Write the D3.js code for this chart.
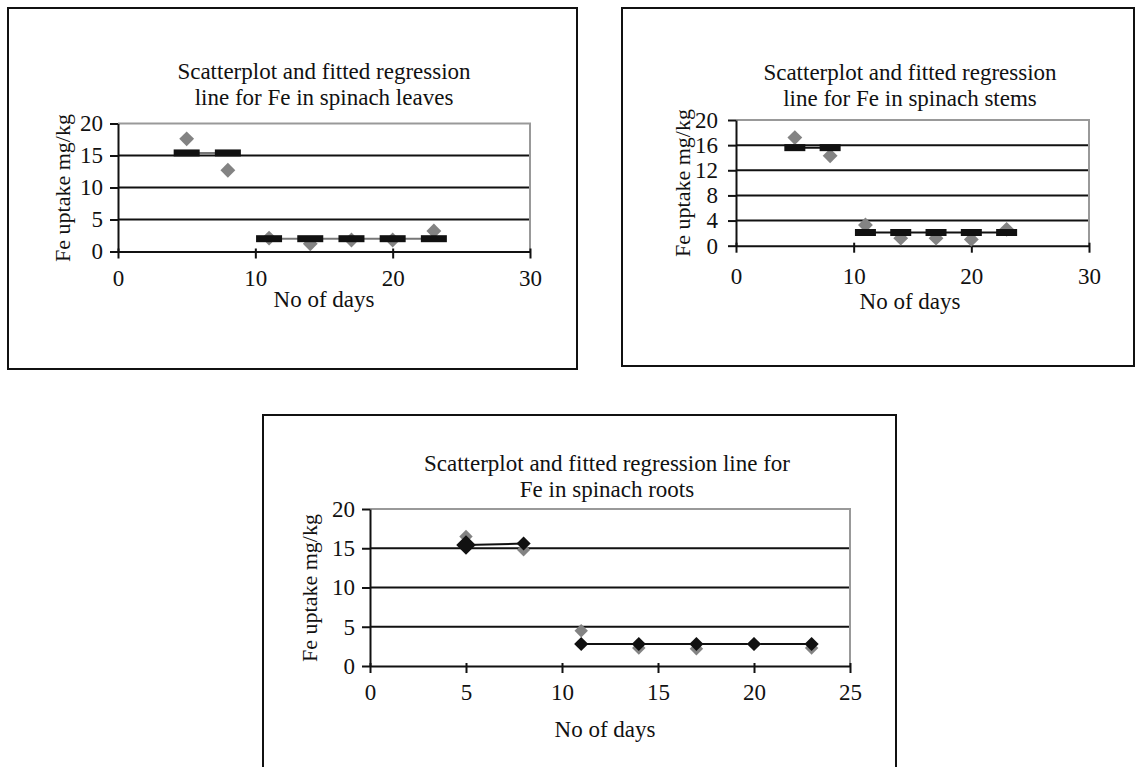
<!DOCTYPE html>
<html>
<head>
<meta charset="utf-8">
<script src="https://cdn.jsdelivr.net/npm/d3@7"></script>
<style>
  body { margin: 0; background: #fff; }
  svg { display: block; }
  text { font-family: "Liberation Serif", "Times New Roman", serif; fill: #111; }
</style>
</head>
<body>
<div id="chart-area"></div>
<script>
// days of sampling (shared by the three panels)
const days = [5, 8, 11, 14, 17, 20, 23];
// the regression is fitted in two pieces: days 5-8 and days 11-23
const fitPiece = [0, 0, 1, 1, 1, 1, 1];

// leaves
const leavesObserved = [17.6, 12.7, 2.1, 1.2, 1.8, 1.8, 3.2];
const leavesFitted = [15.4, 15.4, 2.0, 2.0, 2.0, 2.0, 2.0];
const leavesYTicks = [0, 5, 10, 15, 20];
const leavesXTicks = [0, 10, 20, 30];

// stems
const stemsObserved = [17.2, 14.3, 3.3, 1.2, 1.2, 1.0, 2.6];
const stemsFitted = [15.6, 15.6, 2.1, 2.1, 2.1, 2.1, 2.1];
const stemsYTicks = [0, 4, 8, 12, 16, 20];
const stemsXTicks = [0, 10, 20, 30];

// roots
const rootsObserved = [16.5, 14.8, 4.5, 2.3, 2.2, 2.8, 2.3];
const rootsFitted = [15.4, 15.6, 2.8, 2.8, 2.8, 2.8, 2.8];
const rootsYTicks = [0, 5, 10, 15, 20];
const rootsXTicks = [0, 5, 10, 15, 20, 25];

const yLabel = "Fe uptake mg/kg";
const xLabel = "No of days";

const svg = d3.select("#chart-area")
    .append("svg")
    .attr("width", 1144)
    .attr("height", 767);

let drawPanel = (p) => {
    const g = svg.append("g");
    // outer frame
    g.append("rect")
        .attr("x", p.box[0]).attr("y", p.box[1])
        .attr("width", p.box[2] - p.box[0]).attr("height", p.box[3] - p.box[1])
        .attr("fill", "none").attr("stroke", "#111").attr("stroke-width", 2);

    const x = d3.scaleLinear().domain([0, d3.max(p.xTicks)]).range([p.left, p.right]);
    const y = d3.scaleLinear().domain([0, d3.max(p.yTicks)]).range([p.bottom, p.top]);

    // title
    p.title.forEach((t, i) => {
        g.append("text")
            .attr("x", p.titleX)
            .attr("y", p.titleY + i * 26)
            .attr("text-anchor", "middle")
            .attr("font-size", "23px")
            .text(t);
    });

    // grid lines
    g.selectAll(".grid")
        .data(p.yTicks.slice(1, -1))
        .enter().append("line")
        .attr("x1", p.left).attr("x2", p.right)
        .attr("y1", d => y(d)).attr("y2", d => y(d))
        .attr("stroke", "#111").attr("stroke-width", 2);

    // plot area border (top and right, grey)
    g.append("path")
        .attr("d", "M" + p.left + "," + p.top + "H" + p.right + "V" + p.bottom)
        .attr("fill", "none").attr("stroke", "#999").attr("stroke-width", 2);

    // y axis
    const yAxis = g.append("g")
        .attr("transform", "translate(" + p.left + ",0)")
        .call(d3.axisLeft(y).tickValues(p.yTicks).tickSize(8).tickSizeOuter(0).tickPadding(p.yPad));
    yAxis.select(".domain").attr("stroke", "#111").attr("stroke-width", 2);
    yAxis.selectAll(".tick line").attr("stroke", "#111").attr("stroke-width", 2);
    yAxis.selectAll(".tick text").attr("font-size", "23px").attr("font-family", null).attr("fill", "#111");

    // x axis
    const xAxis = g.append("g")
        .attr("transform", "translate(0," + p.bottom + ")")
        .call(d3.axisBottom(x).tickValues(p.xTicks).tickSize(7).tickSizeOuter(0));
    xAxis.select(".domain").attr("stroke", "#111").attr("stroke-width", 2);
    xAxis.selectAll(".tick line").attr("stroke", "#111").attr("stroke-width", 2).attr("y1", -3);
    xAxis.selectAll(".tick text")
        .attr("font-size", "23px").attr("font-family", null).attr("fill", "#111")
        .attr("y", p.xLabelOffset).attr("dy", 0);

    // axis titles
    g.append("text")
        .attr("x", p.xTitle[0]).attr("y", p.xTitle[1])
        .attr("text-anchor", "middle")
        .attr("font-size", "23px")
        .text(xLabel);
    g.append("text")
        .attr("transform", "translate(" + p.yTitle[0] + "," + p.yTitle[1] + ") rotate(-90)")
        .attr("text-anchor", "middle")
        .attr("dy", "0.35em")
        .attr("font-size", "22px")
        .text(yLabel);

    const fitted = days.map((d, i) => ({ day: d, value: p.fitted[i], piece: fitPiece[i] }));
    const observed = days.map((d, i) => ({ day: d, value: p.observed[i] }));

    // fitted line, one piece per regime
    const line = d3.line().x(d => x(d.day)).y(d => y(d.value));
    g.selectAll(".fitline")
        .data(d3.groups(fitted, d => d.piece).map(gr => gr[1]))
        .enter().append("path")
        .attr("class", "fitline")
        .attr("d", line)
        .attr("fill", "none")
        .attr("stroke", p.lineColor)
        .attr("stroke-width", 2);

    // observed points - grey diamonds
    g.selectAll(".obs")
        .data(observed)
        .enter().append("path")
        .attr("class", "obs")
        .attr("d", d3.symbol().type(d3.symbolSquare).size(p.obsSize))
        .attr("transform", d => "translate(" + x(d.day) + "," + y(d.value) + ") rotate(45)")
        .attr("fill", "#838383");

    if (p.fittedMarker === "dash") {
        g.selectAll(".fit")
            .data(fitted)
            .enter().append("rect")
            .attr("class", "fit")
            .attr("x", d => x(d.day) - p.dashW / 2)
            .attr("y", d => y(d.value) - 3.5)
            .attr("width", p.dashW)
            .attr("height", 7)
            .attr("fill", "#111");
    } else {
        g.selectAll(".fit")
            .data(fitted)
            .enter().append("path")
            .attr("class", "fit")
            .attr("d", (d, i) => d3.symbol().type(d3.symbolSquare).size(i === 0 ? 190 : 100)())
            .attr("transform", d => "translate(" + x(d.day) + "," + y(d.value) + ") rotate(45)")
            .attr("fill", "#111");
    }
};

drawPanel({
    box: [8, 8, 577, 369],
    left: 118, right: 530, top: 123.5, bottom: 251.5,
    xTicks: leavesXTicks, yTicks: leavesYTicks,
    yPad: 7, xLabelOffset: 34,
    title: ["Scatterplot and fitted regression", "line for Fe in spinach leaves"],
    titleX: 324, titleY: 79,
    xTitle: [324, 307], yTitle: [62, 188],
    observed: leavesObserved, fitted: leavesFitted,
    fittedMarker: "dash", dashW: 26, lineColor: "#777", obsSize: 110
});

drawPanel({
    box: [622, 8, 1134, 366],
    left: 736, right: 1089, top: 120, bottom: 245.7,
    xTicks: stemsXTicks, yTicks: stemsYTicks,
    yPad: 10, xLabelOffset: 38,
    title: ["Scatterplot and fitted regression", "line for Fe in spinach stems"],
    titleX: 910, titleY: 80,
    xTitle: [910, 309], yTitle: [682, 183],
    observed: stemsObserved, fitted: stemsFitted,
    fittedMarker: "dash", dashW: 21, lineColor: "#111", obsSize: 110
});

drawPanel({
    box: [263, 415, 896, 790],
    left: 370, right: 850, top: 509, bottom: 666,
    xTicks: rootsXTicks, yTicks: rootsYTicks,
    yPad: 7, xLabelOffset: 34,
    title: ["Scatterplot and fitted regression line for", "Fe in spinach roots"],
    titleX: 607, titleY: 471,
    xTitle: [605, 737], yTitle: [309, 588],
    observed: rootsObserved, fitted: rootsFitted,
    fittedMarker: "diamond", lineColor: "#111", obsSize: 90
});
</script>
</body>
</html>
